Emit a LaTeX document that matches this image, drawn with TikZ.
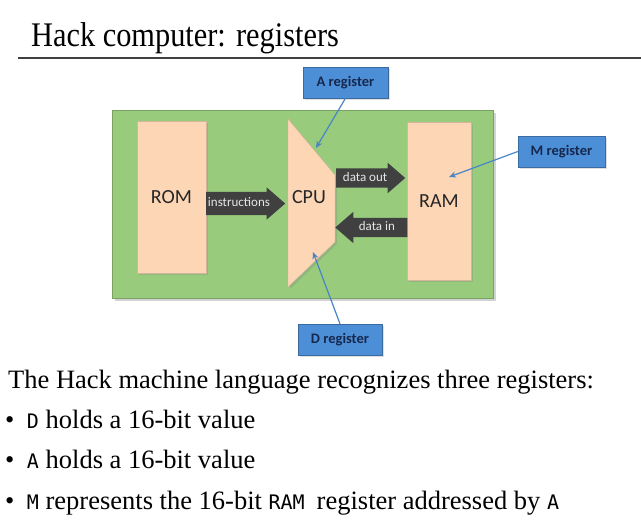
\documentclass[tikz,border=0pt]{standalone}
\usepackage{fontspec}
\setmainfont{Liberation Serif}
\newfontfamily\titlefont[FakeStretch=0.88]{Liberation Serif}
\newfontfamily\calibri{Carlito}
\newfontfamily\codefont{DejaVu Sans Mono}
\usetikzlibrary{shapes.arrows,shadows,arrows.meta}
\definecolor{boardgreen}{RGB}{152,204,124}
\definecolor{chippeach}{RGB}{252,214,181}
\definecolor{busgray}{RGB}{64,64,64}
\definecolor{tagblue}{RGB}{77,143,214}
\definecolor{tagline}{RGB}{72,132,200}
\definecolor{tagtext}{RGB}{22,40,78}
\newcommand{\code}[1]{{\codefont\fontsize{20}{23}\selectfont #1}}

\begin{document}
\begin{tikzpicture}[x=1pt,y=-1pt,
    chip/.style={fill=chippeach,draw=chippeach!85!black,line width=.4pt,
      drop shadow={shadow xshift=2pt,shadow yshift=-2pt,opacity=.3}},
    chiplabel/.style={font=\calibri\fontsize{20}{24}\selectfont,text=black!85},
    bus/.style={single arrow,fill=busgray,text=black!10,
      font=\calibri\fontsize{13}{15}\selectfont,text height=8pt,text depth=2pt,
      single arrow tip angle=82,inner xsep=1pt},
    tag/.style={fill=tagblue,draw=tagblue!75!black,minimum width=85pt,minimum height=31pt,
      font=\calibri\bfseries\fontsize{14.5}{17}\selectfont,text=tagtext,
      drop shadow={shadow xshift=1.5pt,shadow yshift=-1.5pt,opacity=.25}},
    pointer/.style={tagline,line width=1.2pt,-{Stealth[length=7pt,width=6pt]}},
    body/.style={anchor=base west,inner sep=0,font=\fontsize{26.5}{32}\selectfont}]
    \useasboundingbox (0,0) rectangle (641,528);
    \node (title) at (31,46) [anchor=base west,inner sep=0,font=\titlefont\fontsize{34.5}{40}\selectfont] {Hack computer: registers};
    \draw [line width=1.6pt,black!75] (18,58) -- (641,58);
    \node (board) at (302.5,204) [fill=boardgreen,draw=boardgreen!80!black,minimum width=381pt,minimum height=188pt,
      drop shadow={shadow xshift=3pt,shadow yshift=-3pt,opacity=.35}] {};
    \node (rom) at (171.5,197) [chip,chiplabel,minimum width=69pt,minimum height=152pt] {ROM};
    \node (ram) at (439,201) [chip,chiplabel,minimum width=64pt,minimum height=158pt] {RAM};
    \draw [chip] (288,119) -- (335,175) -- (335,242) -- (288,287) -- cycle;
    \node (cpu) at (309,197) [chiplabel] {CPU};
    \node (instr) at (206,203.5) [bus,anchor=tail,minimum height=79pt,inner ysep=6.5pt,single arrow head extend=4.5pt] {instructions};
    \node (dout) at (336,178) [bus,anchor=tail,minimum height=69pt,inner ysep=4.5pt,single arrow head extend=5.5pt] {data out};
    \node (din) at (335,227.5) [bus,anchor=tip,minimum height=72pt,inner ysep=4.5pt,single arrow head extend=6pt,shape border rotate=180] {data in};
    \node (areg) at (345.5,82.5) [tag] {A register};
    \node (mreg) at (561.5,151.5) [tag,minimum width=87pt] {M register};
    \node (dreg) at (340,339.5) [tag,minimum width=84pt] {D register};
    \coordinate (atip) at (316,148);
    \coordinate (mtip) at (449,177);
    \coordinate (dtip) at (313,252);
    \draw [pointer]
    (areg.south) -- (atip);
    \draw [pointer]
    (mreg.west) -- (mtip);
    \draw [pointer]
    (dreg.north) -- (dtip);
    \node (intro) at (8,388) [body] {The Hack machine language recognizes three registers:};
    \node (dline) at (5,428) [body] {\textbullet\hspace{12.5pt}\code{D} holds a 16-bit value};
    \node (aline) at (5,468) [body] {\textbullet\hspace{12.5pt}\code{A} holds a 16-bit value};
    \node (mline) at (5,509) [body] {\textbullet\hspace{12.5pt}\code{M} represents the 16-bit \code{RAM}\hspace{12pt}register addressed by \code{A}};
  \end{tikzpicture}
\end{document}
